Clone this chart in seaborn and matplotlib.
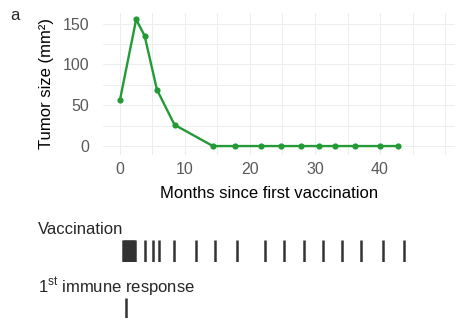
import matplotlib
matplotlib.use("Agg")
import matplotlib.pyplot as plt
import seaborn as sns
import pandas as pd
import numpy as np

# Tumor size measurements
months = [0, 2.5, 3.8, 5.7, 8.4, 14.3, 17.7, 21.7, 24.7, 27.8, 30.6, 33.1, 36.1, 40.0, 42.8]
tumor_size = [56, 155, 135, 69, 26, 0, 0, 0, 0, 0, 0, 0, 0, 0, 0]

# Vaccination time points (months); the dense priming phase merges into a block
vaccination_months = [0.45, 0.6, 0.75, 0.9, 1.05, 1.2, 1.35, 1.5, 1.65, 1.8, 1.95, 2.1, 2.25,
                      3.9, 5.05, 5.95, 8.25, 11.65, 14.7, 18.0, 22.3, 25.2,
                      28.3, 31.2, 34.1, 37.0, 40.5, 43.7]
immune_response_months = [1.0]

x_tick_labels = ["0", "10", "20", "30", "40"]
y_tick_labels = ["0", "50", "100", "150"]

sns.set_theme(style="whitegrid")
plt.rcParams["font.family"] = ["Liberation Sans", "DejaVu Sans"]
plt.rcParams["mathtext.fontset"] = "custom"
plt.rcParams["mathtext.rm"] = "Liberation Sans"

fig = plt.figure(figsize=(4.66, 3.23), dpi=100)
xlim = (-2.6, 51.5)

ax = fig.add_axes([0.221, 0.520, 0.755, 0.440])
df = pd.DataFrame({"month": months, "size": tumor_size})
green = "#229a35"
sns.lineplot(data=df, x="month", y="size", ax=ax, color=green, linewidth=1.7)
sns.scatterplot(data=df, x="month", y="size", ax=ax, color=green, s=20,
                edgecolor=green, linewidth=0, zorder=3)
ax.set_xlim(*xlim)
ax.set_ylim(-11, 163)

xt = np.arange(0, 55, 5)
ax.set_xticks(xt)
ax.set_xticklabels([x_tick_labels[int(v // 10)] if v % 10 == 0 and v <= 40 else "" for v in xt])
yt = np.arange(0, 175, 25)
ax.set_yticks(yt)
ax.set_yticklabels([y_tick_labels[int(v // 50)] if v % 50 == 0 else "" for v in yt])
ax.tick_params(axis="both", length=0, labelsize=11.5, colors="#5a5a5a")
ax.tick_params(axis="x", pad=5)
ax.tick_params(axis="y", pad=10)
ax.grid(True, color="#ededed", lw=0.7)
for s in ax.spines.values():
    s.set_visible(False)
ax.set_xlabel("Months since first vaccination", fontsize=12, color="black", labelpad=4)
ax.xaxis.set_label_coords(0.473, -0.215)
ax.set_ylabel("Tumor size (mm²)", fontsize=12, color="black", labelpad=6)

# Vaccination schedule track
ax_v = fig.add_axes([0.221, (323 - 262) / 323, 0.755, 22 / 323])
sns.rugplot(x=vaccination_months, ax=ax_v, height=1.0, color="#333333",
            linewidth=1.8, expand_margins=False)
ax_v.set_xlim(*xlim)
ax_v.set_ylim(0, 1)
ax_v.axis("off")

# First immune response track
ax_r = fig.add_axes([0.221, (323 - 318) / 323, 0.755, 20 / 323])
sns.rugplot(x=immune_response_months, ax=ax_r, height=1.0, color="#333333",
            linewidth=1.8, expand_margins=False)
ax_r.set_xlim(*xlim)
ax_r.set_ylim(0, 1)
ax_r.axis("off")

fig.text(10 / 466, 1 - 15 / 323, "a", fontsize=12, va="center", ha="left")
fig.text(38 / 466, 1 - 230 / 323, "Vaccination", fontsize=12, va="center", ha="left")
fig.text(38 / 466, 1 - 287 / 323, r"1$^{\mathrm{st}}$ immune response", fontsize=12, va="center", ha="left")

fig.savefig("out.png", dpi=100)
